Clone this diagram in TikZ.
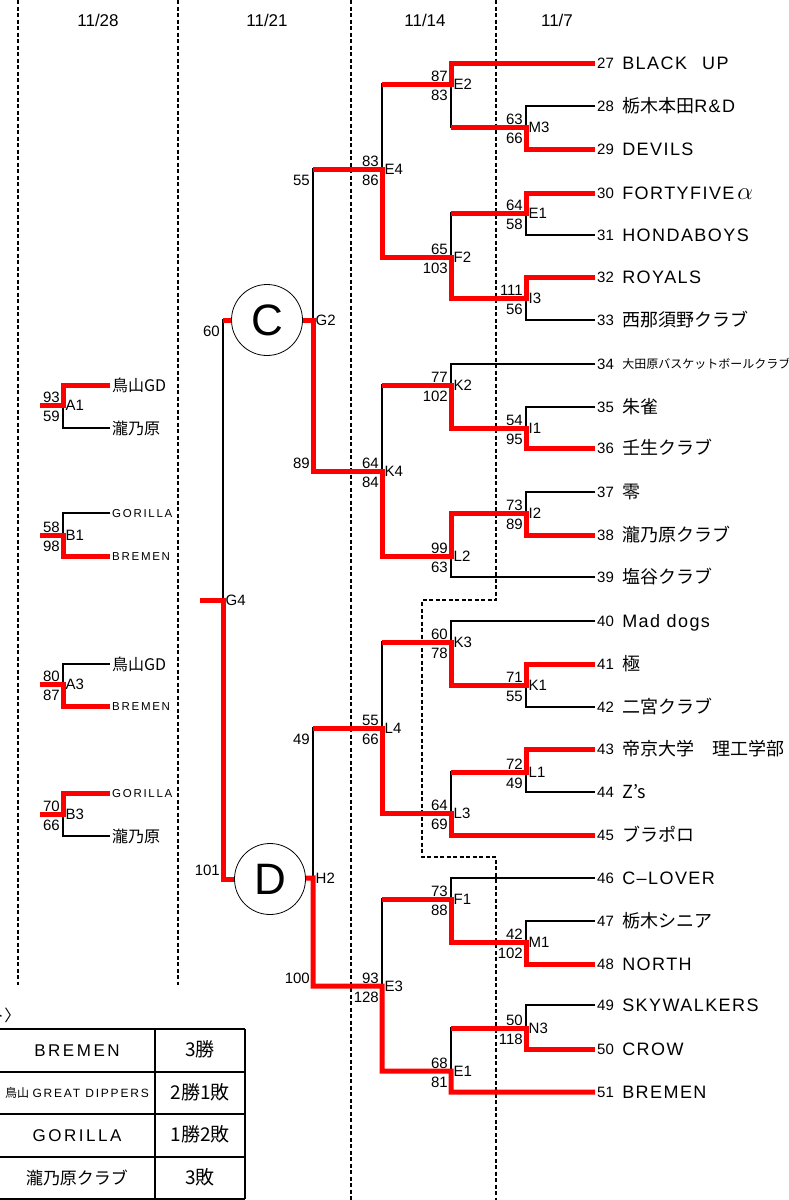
\documentclass[tikz,border=0pt]{standalone}
\usepackage{fontspec}
\setmainfont{Liberation Sans}
\newfontfamily\jp{Noto Sans CJK JP}
\newfontfamily\wide[LetterSpace=15]{Liberation Sans}
\newfontfamily\tname[LetterSpace=8]{Liberation Sans}
\usetikzlibrary{positioning}

\begin{document}
\begin{tikzpicture}[x=1pt,y=-1pt,
	win/.style={red,line width=5pt},
	lose/.style={black,line width=2pt},
	guide/.style={black,line width=1.2pt,dash pattern=on 4pt off 2.5pt},
	every node/.style={text depth=0pt},
	date/.style={font=\fontsize{17}{17}\selectfont},
	num/.style={anchor=west,inner sep=2pt,font=\fontsize{15}{15}\selectfont,text height=11pt},
	team/.style={inner sep=1pt,font=\tname\fontsize{18}{18}\selectfont,text height=13pt},
	lname/.style={anchor=west,inner sep=2pt,font=\jp\fontsize{16}{16}\selectfont,text height=12pt},
	lsmall/.style={anchor=west,inner sep=2pt,font=\wide\fontsize{11.5}{11.5}\selectfont,text height=8.2pt},
	sa/.style={anchor=south east,inner sep=1pt,xshift=-2pt,yshift=1pt,font=\fontsize{15}{15}\selectfont,text height=11pt},
	sb/.style={anchor=north east,inner sep=1pt,xshift=-2pt,yshift=-4pt,font=\fontsize{15}{15}\selectfont,text height=11pt},
	mlab/.style={anchor=west,inner sep=2.5pt,font=\fontsize{15}{15}\selectfont,text height=11pt},
	pool/.style={circle,draw,line width=0.8pt,minimum size=71pt,inner sep=0pt,font=\fontsize{44}{44}\selectfont},
	cella/.style={font=\wide\fontsize{17}{17}\selectfont,text height=12pt},
	cellb/.style={font=\jp\fontsize{19}{19}\selectfont,text height=13pt},
]
\useasboundingbox (0,0) rectangle (789,1200);

\node[date] (d28) at (98,20) {11/28};
\node[date] (d21) at (267,20) {11/21};
\node[date] (d14) at (425,20) {11/14};
\node[date] (d7) at (557,20) {11/7};

\draw[guide] (18,0) -- (18,985);
\draw[guide] (178,0) -- (178,985);
\draw[guide] (351,0) -- (351,1200);
\draw[guide] (496,0) -- (496,600) -- (422,600) -- (422,857) -- (496,857) -- (496,1200);

% teams
\node[num] (t27) at (595,63) {27};
\node[team,right=5pt of t27] (n27) {BLACK\hspace{15pt}UP};
\node[num] (t28) at (595,106) {28};
\node[team,right=5pt of t28] (n28) {{\jp 栃木本田}R\&D};
\node[num] (t29) at (595,149) {29};
\node[team,right=5pt of t29] (n29) {DEVILS};
\node[num] (t30) at (595,193) {30};
\node[team,right=5pt of t30] (n30) {FORTYFIVE\hspace{3pt}{\fontsize{25}{25}\selectfont$\alpha$}};
\node[num] (t31) at (595,235) {31};
\node[team,right=5pt of t31] (n31) {HONDABOYS};
\node[num] (t32) at (595,277) {32};
\node[team,right=5pt of t32] (n32) {ROYALS};
\node[num] (t33) at (595,320) {33};
\node[team,right=5pt of t33] (n33) {\jp 西那須野クラブ};
\node[num] (t34) at (595,364) {34};
\node[team,right=5pt of t34,text height=9pt] (n34) {\jp\fontsize{12}{12}\selectfont 大田原バスケットボールクラブ};
\node[num] (t35) at (595,407) {35};
\node[team,right=5pt of t35] (n35) {\jp 朱雀};
\node[num] (t36) at (595,448) {36};
\node[team,right=5pt of t36] (n36) {\jp 壬生クラブ};
\node[num] (t37) at (595,492) {37};
\node[team,right=5pt of t37] (n37) {\jp 零};
\node[num] (t38) at (595,535) {38};
\node[team,right=5pt of t38] (n38) {\jp 瀧乃原クラブ};
\node[num] (t39) at (595,577) {39};
\node[team,right=5pt of t39] (n39) {\jp 塩谷クラブ};
\node[num] (t40) at (595,621) {40};
\node[team,right=5pt of t40] (n40) {Mad dogs};
\node[num] (t41) at (595,664) {41};
\node[team,right=5pt of t41] (n41) {\jp 極};
\node[num] (t42) at (595,707) {42};
\node[team,right=5pt of t42] (n42) {\jp 二宮クラブ};
\node[num] (t43) at (595,749) {43};
\node[team,right=5pt of t43] (n43) {\jp 帝京大学　理工学部};
\node[num] (t44) at (595,792) {44};
\node[team,right=5pt of t44] (n44) {\jp Z’s};
\node[num] (t45) at (595,835) {45};
\node[team,right=5pt of t45] (n45) {\jp ブラポロ};
\node[num] (t46) at (595,878) {46};
\node[team,right=5pt of t46] (n46) {C–LOVER};
\node[num] (t47) at (595,921) {47};
\node[team,right=5pt of t47] (n47) {\jp 栃木シニア};
\node[num] (t48) at (595,964) {48};
\node[team,right=5pt of t48] (n48) {NORTH};
\node[num] (t49) at (595,1005) {49};
\node[team,right=5pt of t49] (n49) {SKYWALKERS};
\node[num] (t50) at (595,1049) {50};
\node[team,right=5pt of t50] (n50) {CROW};
\node[num] (t51) at (595,1092) {51};
\node[team,right=5pt of t51] (n51) {BREMEN};

% matches
\coordinate (m3) at (526,127);
\coordinate (e1a) at (526,213);
\coordinate (i3) at (526,298);
\coordinate (i1) at (526,428);
\coordinate (i2) at (526,513);
\coordinate (k1) at (526,685);
\coordinate (l1) at (526,772);
\coordinate (m1) at (526,942);
\coordinate (n3) at (526,1028);
\coordinate (e2) at (451,84);
\coordinate (f2) at (451,257);
\coordinate (k2) at (451,385);
\coordinate (l2) at (451,556);
\coordinate (k3) at (451,642);
\coordinate (l3) at (451,813);
\coordinate (f1) at (451,899);
\coordinate (e1b) at (451,1071);
\coordinate (e4) at (382,169);
\coordinate (k4) at (382,471);
\coordinate (l4) at (382,728);
\coordinate (e3) at (382,986);
\coordinate (g2) at (313,320);
\coordinate (h2) at (313,878);
\coordinate (g4) at (223,600);
\coordinate (g4o) at (200,600);
\coordinate (st) at (40,0);

\node[pool] (C) at (267,320) {C};
\node[pool] (D) at (270,879) {D};

\node[mlab] (m3l) at (m3) {M3}; \node[sa] (m3a) at (m3) {63}; \node[sb] (m3b) at (m3) {66};
\node[mlab] (e1al) at (e1a) {E1}; \node[sa] (e1aa) at (e1a) {64}; \node[sb] (e1ab) at (e1a) {58};
\node[mlab] (i3l) at (i3) {I3}; \node[sa] (i3a) at (i3) {111}; \node[sb] (i3b) at (i3) {56};
\node[mlab] (i1l) at (i1) {I1}; \node[sa] (i1a) at (i1) {54}; \node[sb] (i1b) at (i1) {95};
\node[mlab] (i2l) at (i2) {I2}; \node[sa] (i2a) at (i2) {73}; \node[sb] (i2b) at (i2) {89};
\node[mlab] (k1l) at (k1) {K1}; \node[sa] (k1a) at (k1) {71}; \node[sb] (k1b) at (k1) {55};
\node[mlab] (l1l) at (l1) {L1}; \node[sa] (l1a) at (l1) {72}; \node[sb] (l1b) at (l1) {49};
\node[mlab] (m1l) at (m1) {M1}; \node[sa] (m1a) at (m1) {42}; \node[sb] (m1b) at (m1) {102};
\node[mlab] (n3l) at (n3) {N3}; \node[sa] (n3a) at (n3) {50}; \node[sb] (n3b) at (n3) {118};
\node[mlab] (e2l) at (e2) {E2}; \node[sa] (e2a) at (e2) {87}; \node[sb] (e2b) at (e2) {83};
\node[mlab] (f2l) at (f2) {F2}; \node[sa] (f2a) at (f2) {65}; \node[sb] (f2b) at (f2) {103};
\node[mlab] (k2l) at (k2) {K2}; \node[sa] (k2a) at (k2) {77}; \node[sb] (k2b) at (k2) {102};
\node[mlab] (l2l) at (l2) {L2}; \node[sa] (l2a) at (l2) {99}; \node[sb] (l2b) at (l2) {63};
\node[mlab] (k3l) at (k3) {K3}; \node[sa] (k3a) at (k3) {60}; \node[sb] (k3b) at (k3) {78};
\node[mlab] (l3l) at (l3) {L3}; \node[sa] (l3a) at (l3) {64}; \node[sb] (l3b) at (l3) {69};
\node[mlab] (f1l) at (f1) {F1}; \node[sa] (f1a) at (f1) {73}; \node[sb] (f1b) at (f1) {88};
\node[mlab] (e1bl) at (e1b) {E1}; \node[sa] (e1ba) at (e1b) {68}; \node[sb] (e1bb) at (e1b) {81};
\node[mlab] (e4l) at (e4) {E4}; \node[sa] (e4a) at (e4) {83}; \node[sb] (e4b) at (e4) {86};
\node[mlab] (k4l) at (k4) {K4}; \node[sa] (k4a) at (k4) {64}; \node[sb] (k4b) at (k4) {84};
\node[mlab] (l4l) at (l4) {L4}; \node[sa] (l4a) at (l4) {55}; \node[sb] (l4b) at (l4) {66};
\node[mlab] (e3l) at (e3) {E3}; \node[sa] (e3a) at (e3) {93}; \node[sb] (e3b) at (e3) {128};
\node[mlab] (g2l) at (g2) {G2}; \node[sb] (g2a) at (e4 -| g2) {55}; \node[sa] (g2b) at (k4 -| g2) {89};
\node[mlab] (h2l) at (h2) {H2}; \node[sb] (h2a) at (l4 -| h2) {49}; \node[sa] (h2b) at (e3 -| h2) {100};
\node[mlab] (g4l) at (g4) {G4}; \node[sb] (g4a) at (g2 -| g4) {60}; \node[sa] (g4b) at (h2 -| g4) {101};

% left pools
\coordinate (a1) at (63,405);
\coordinate (b1) at (63,535);
\coordinate (a3) at (63,684);
\coordinate (b3) at (63,814);
\node[lname] (a1t) at (110,385) {鳥山GD};
\node[lname] (a1b) at (110,428) {瀧乃原};
\node[lsmall] (b1t) at (110,513) {GORILLA};
\node[lsmall] (b1b) at (110,556) {BREMEN};
\node[lname] (a3t) at (110,664) {鳥山GD};
\node[lsmall] (a3b) at (110,706) {BREMEN};
\node[lsmall] (b3t) at (110,793) {GORILLA};
\node[lname] (b3b) at (110,836) {瀧乃原};
\node[mlab] (a1l) at (a1) {A1}; \node[sa] (a1a) at (a1) {93}; \node[sb] (a1s) at (a1) {59};
\node[mlab] (b1l) at (b1) {B1}; \node[sa] (b1a) at (b1) {58}; \node[sb] (b1s) at (b1) {98};
\node[mlab] (a3l) at (a3) {A3}; \node[sa] (a3a) at (a3) {80}; \node[sb] (a3s) at (a3) {87};
\node[mlab] (b3l) at (b3) {B3}; \node[sa] (b3a) at (b3) {70}; \node[sb] (b3s) at (b3) {66};

\begin{scope}[lose]
	\draw (t28.west) -| (m3) |- (t29.west);
	\draw (t30.west) -| (e1a) |- (t31.west);
	\draw (t32.west) -| (i3) |- (t33.west);
	\draw (t35.west) -| (i1) |- (t36.west);
	\draw (t37.west) -| (i2) |- (t38.west);
	\draw (t41.west) -| (k1) |- (t42.west);
	\draw (t43.west) -| (l1) |- (t44.west);
	\draw (t47.west) -| (m1) |- (t48.west);
	\draw (t49.west) -| (n3) |- (t50.west);
	\draw (t27.west) -| (e2) |- (m3);
	\draw (e1a) -| (f2) |- (i3);
	\draw (t34.west) -| (k2) |- (i1);
	\draw (i2) -| (l2) |- (t39.west);
	\draw (t40.west) -| (k3) |- (k1);
	\draw (l1) -| (l3) |- (t45.west);
	\draw (t46.west) -| (f1) |- (m1);
	\draw (n3) -| (e1b) |- (t51.west);
	\draw (e2) -| (e4) |- (f2);
	\draw (k2) -| (k4) |- (l2);
	\draw (k3) -| (l4) |- (l3);
	\draw (f1) -| (e3) |- (e1b);
	\draw (e4) -| (g2) |- (k4);
	\draw (l4) -| (h2) |- (e3);
	\draw (C) -| (g4) |- (D);
	\draw (a1t.west) -| (a1) |- (a1b.west);
	\draw (b1t.west) -| (b1) |- (b1b.west);
	\draw (a3t.west) -| (a3) |- (a3b.west);
	\draw (b3t.west) -| (b3) |- (b3b.west);
\end{scope}

\begin{scope}[win]
	\draw (t27.west) -| (e2) -- (e2 -| e4);
	\draw (t29.west) -| (m3) -- (m3 -| e2);
	\draw (t30.west) -| (e1a) -- (e1a -| f2);
	\draw (t32.west) -| (i3) -| (f2) -| (e4) -- (e4 -| g2);
	\draw (t36.west) -| (i1) -| (k2) -- (k2 -| k4);
	\draw (t38.west) -| (i2) -| (l2) -| (k4) -| (g2) -- (C);
	\draw (t41.west) -| (k1) -| (k3) -- (k3 -| l4);
	\draw (t43.west) -| (l1) -- (l1 -| l3);
	\draw (t45.west) -| (l3) -| (l4) -- (l4 -| h2);
	\draw (t48.west) -| (m1) -| (f1) -- (f1 -| e3);
	\draw (t50.west) -| (n3) -- (n3 -| e1b);
	\draw (t51.west) -| (e1b) -| (e3) -| (h2) -- (D);
	\draw (C) -- (C -| g4);
	\draw (D) -| (g4) -- (g4o);
	\draw (a1t.west) -| (a1) -- (a1 -| st);
	\draw (b1b.west) -| (b1) -- (b1 -| st);
	\draw (a3b.west) -| (a3) -- (a3 -| st);
	\draw (b3t.west) -| (b3) -- (b3 -| st);
\end{scope}

% result table
\node[anchor=east,font=\jp\fontsize{16}{16}\selectfont] (hd) at (24,1015) {ト〉};
\draw[black,line width=1.5pt] (-5,1029) -- (245,1029) (-5,1072) -- (245,1072) (-5,1114) -- (245,1114) (-5,1157) -- (245,1157) (-5,1199) -- (245,1199) (155,1029) -- (155,1199) (245,1029) -- (245,1199);
\node[cella] (r1a) at (77,1050) {BREMEN};
\node[cellb] (r1b) at (200,1050) {3勝};
\node[font=\fontsize{12}{12}\selectfont,text height=9pt] (r2a) at (77,1093) {{\jp 鳥山} {\wide GREAT DIPPERS}};
\node[cellb] (r2b) at (200,1093) {2勝1敗};
\node[cella] (r3a) at (77,1135) {GORILLA};
\node[cellb] (r3b) at (200,1135) {1勝2敗};
\node[cellb,font=\jp\fontsize{17}{17}\selectfont] (r4a) at (77,1178) {瀧乃原クラブ};
\node[cellb] (r4b) at (200,1178) {3敗};
\end{tikzpicture}
\end{document}
